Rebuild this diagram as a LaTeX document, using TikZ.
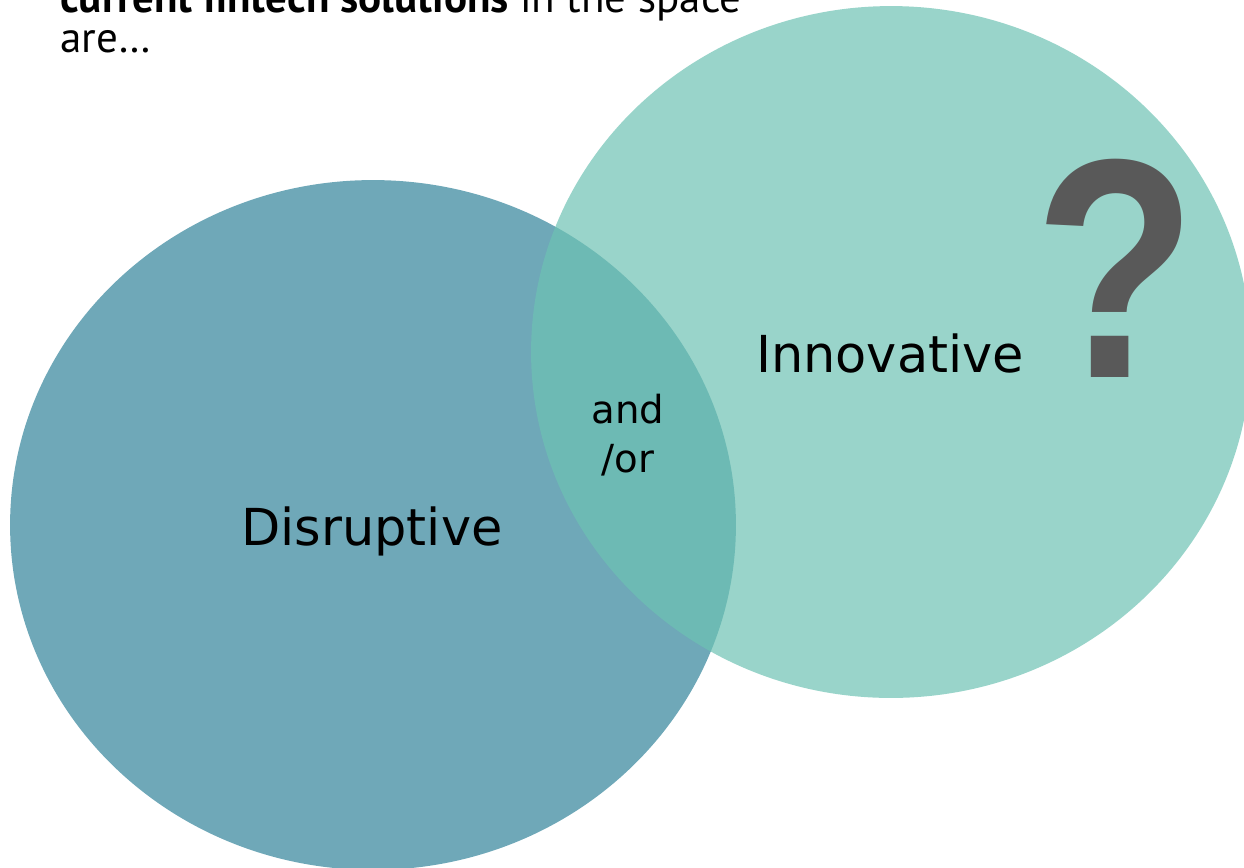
\documentclass[tikz,border=0pt]{standalone}
\usepackage{fontspec}
\setmainfont{DejaVu Sans}
\newfontfamily\headfont{PT Sans}
\newfontfamily\qmfont{Liberation Sans}
\usetikzlibrary{shapes.geometric}
\definecolor{disrblue}{RGB}{111,168,184}
\definecolor{innovgreen}{RGB}{109,194,179}
\definecolor{qmgray}{RGB}{89,89,89}
\tikzset{
  venn/.style={ellipse,inner sep=0pt},
  lbl/.style={anchor=base,inner sep=0pt}
}
\begin{document}
\begin{tikzpicture}[x=0.02cm,y=-0.02cm]
    \useasboundingbox (0,0) rectangle (1244,867);
    \clip (0,0) rectangle (1244,867);

    % the two sets
    \node (disr) at (373,525) [venn,fill=disrblue,minimum width=14.52cm,minimum height=13.8cm] {};
    \node (innov) at (891,352) [venn,fill=innovgreen,fill opacity=.7,minimum width=14.4cm,minimum height=13.84cm] {};

    % labels
    \node (disrtxt) at (372,545) [lbl,font=\fontsize{29}{34}\selectfont] {Disruptive};
    \node (innovtxt) at (890,372) [lbl,font=\fontsize{29}{34}\selectfont] {Innovative};
    \node (andtxt) at (628,423) [lbl,font=\fontsize{22}{26}\selectfont] {and};
    \node (ortxt) at (628,472) [lbl,font=\fontsize{22}{26}\selectfont] {/or};
    \node (qmark) at (1116,377) [lbl,text=qmgray,xscale=.85,font=\qmfont\bfseries\fontsize{178}{178}\selectfont] {?};

    % heading, cut at the top
    \node (head1) at (60,12) [anchor=base west,inner sep=0pt,font=\headfont\fontsize{24.5}{28}\selectfont] {\textbf{current fintech solutions} in the space};
    \node (head2) at (60,52) [anchor=base west,inner sep=0pt,font=\headfont\fontsize{24.5}{28}\selectfont] {are\ldots};
\end{tikzpicture}
\end{document}
